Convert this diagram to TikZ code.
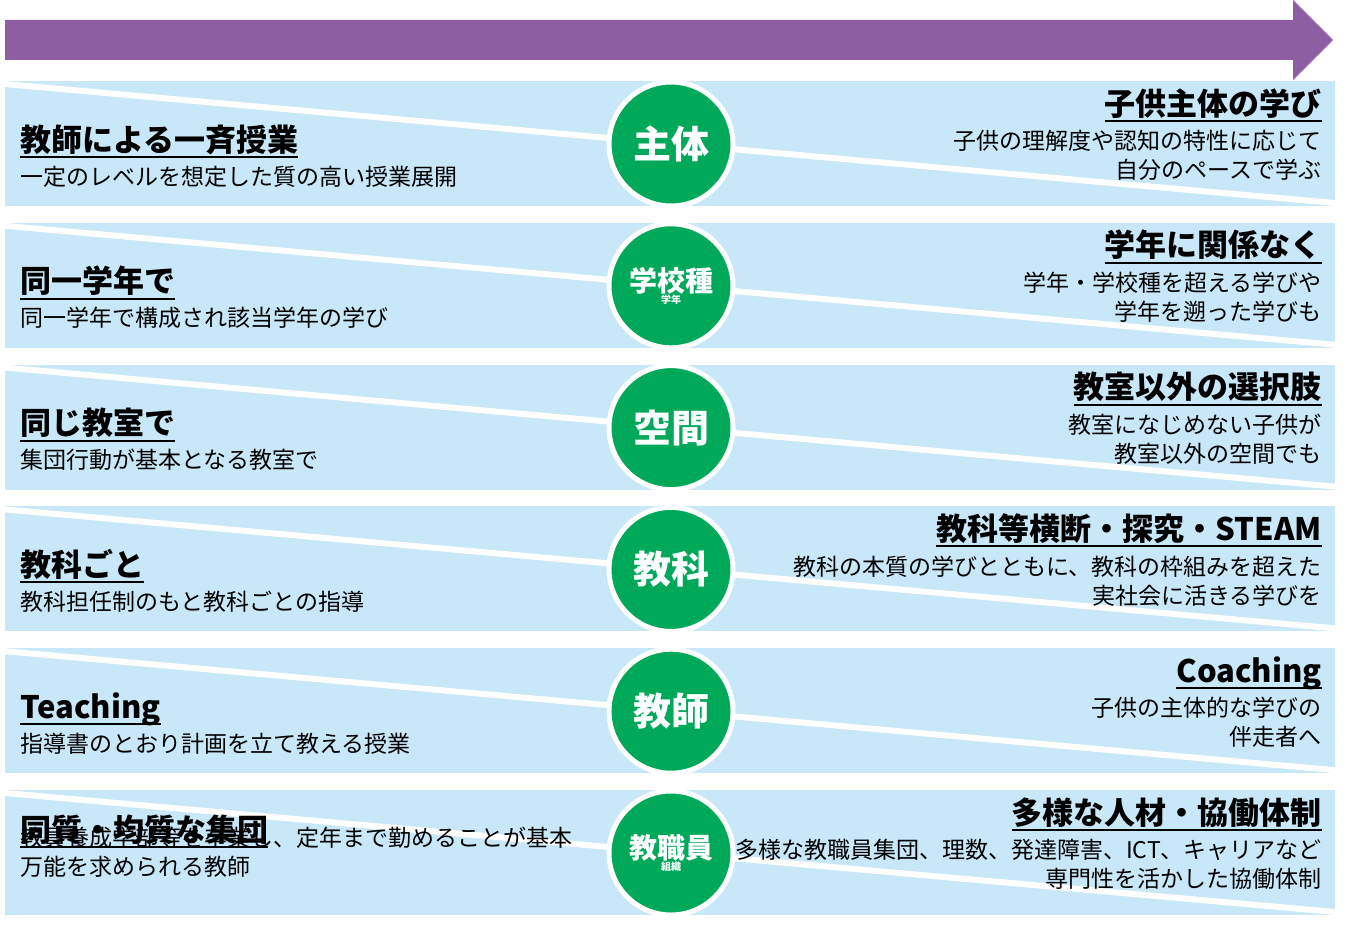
\documentclass[tikz,border=0pt]{standalone}
\usepackage{fontspec}
\setmainfont{Noto Sans CJK JP}
\definecolor{band}{HTML}{C8E7F8}
\definecolor{purp}{HTML}{8E5EA3}
\definecolor{grn}{HTML}{00A85A}
\tikzset{
 ttl/.style={inner sep=0pt,font=\fontsize{31}{34}\selectfont\bfseries},
 sub/.style={inner sep=0pt,font=\fontsize{23}{29}\selectfont},
 circ/.style={circle,fill=grn,draw=white,line width=5pt,minimum size=124pt,inner sep=0pt,text=white,font=\bfseries},
 uline/.style={line width=2pt}
}
\newcommand\myrow[7]{%
 \pgfmathsetmacro{\rtop}{81+141.8*#1}%
 \begin{scope}
  \clip (5,\rtop) rectangle (1335,\rtop+125);
  \fill[band] (5,\rtop) rectangle (1335,\rtop+125);
  \draw[white,line width=6pt] (5,\rtop+3) -- (1335,\rtop+122);
 \end{scope}
 \node[circ,align=center] (c#1) at (671,\rtop+63) {#2};
 \node[ttl,anchor=base west] (lt#1) at (20,\rtop+70-#3) {#4};
 \draw[uline] ([yshift=-6pt]lt#1.base west) -- ([yshift=-6pt]lt#1.base east);
 \node[sub,anchor=base west,align=left] (ls#1) at (20,\rtop+104-#3) {#5};
 \node[ttl,anchor=base east] (rt#1) at (1322,\rtop+34) {#6};
 \draw[uline] ([yshift=-6pt]rt#1.base west) -- ([yshift=-6pt]rt#1.base east);
 \node[sub,anchor=north east,align=right] (rs#1) at (1322,\rtop+49) {#7};
}
\begin{document}
\begin{tikzpicture}[x=1pt,y=-1pt]
\useasboundingbox (0,0) rectangle (1353,950);
\fill[purp] (5,20) -- (1293,20) -- (1293,0) -- (1333,40) -- (1293,80) -- (1293,60) -- (5,60) -- cycle;
\myrow{0}{\fontsize{38}{40}\selectfont 主体}{0}{教師による一斉授業}{一定のレベルを想定した質の高い授業展開}{子供主体の学び}{子供の理解度や認知の特性に応じて\\自分のペースで学ぶ}
\myrow{1}{\fontsize{28}{36}\selectfont 学校種\\学年}{0}{同一学年で}{同一学年で構成され該当学年の学び}{学年に関係なく}{学年・学校種を超える学びや\\学年を遡った学びも}
\myrow{2}{\fontsize{38}{40}\selectfont 空間}{0}{同じ教室で}{集団行動が基本となる教室で}{教室以外の選択肢}{教室になじめない子供が\\教室以外の空間でも}
\myrow{3}{\fontsize{38}{40}\selectfont 教科}{0}{教科ごと}{教科担任制のもと教科ごとの指導}{教科等横断・探究・STEAM}{教科の本質の学びとともに、教科の枠組みを超えた\\実社会に活きる学びを}
\myrow{4}{\fontsize{38}{40}\selectfont 教師}{0}{Teaching}{指導書のとおり計画を立て教える授業}{Coaching}{子供の主体的な学びの\\伴走者へ}
\myrow{5}{\fontsize{28}{36}\selectfont 教職員\\組織}{19}{同質・均質な集団}{教員養成学部等を卒業し、定年まで勤めることが基本\\万能を求められる教師}{多様な人材・協働体制}{多様な教職員集団、理数、発達障害、ICT、キャリアなど\\専門性を活かした協働体制}
\end{tikzpicture}
\end{document}
